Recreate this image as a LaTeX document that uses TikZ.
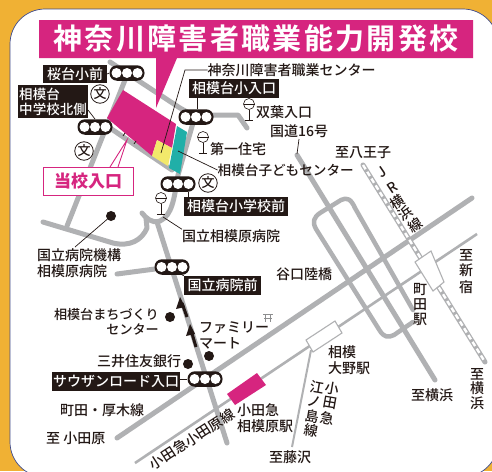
\documentclass[tikz,border=0pt]{standalone}
\usepackage{fontspec}
\setmainfont{Noto Sans CJK JP Medium}
\newfontfamily\titlefont[LetterSpace=8]{Noto Sans CJK JP Bold}
\definecolor{ink}{HTML}{231815}
\definecolor{roadc}{HTML}{B0B1B3}
\definecolor{mag}{HTML}{D6257F}
\definecolor{tealc}{HTML}{20AFA8}
\definecolor{yel}{HTML}{F2E96B}
\definecolor{oran}{HTML}{F0B134}
\definecolor{navy}{HTML}{3F4A8A}
\newcommand{\tlamp}[3]{%
  \node[lamp] (#1) at (#2,#3) {};
  \foreach \dx in {-10.5,0,10.5} \fill[white] (#2+\dx,#3) circle (5);
}
\newcommand{\bstop}[3]{%
  \node[busc] (#1) at (#2,#3) {};
  \draw[ink,line width=.6] (#2-5.5,#3)--(#2+5.5,#3) (#2,#3+5.5)--(#2,#3+16) (#2-4,#3+16)--(#2+4,#3+16);
}
\tikzset{
  road/.style={roadc,line width=5,line cap=round,line join=round},
  rail/.style={roadc,line width=2.6},
  lamp/.style={fill=ink,rounded corners=7.5,minimum width=35,minimum height=15.5,inner sep=0},
  busc/.style={circle,draw=ink,fill=white,line width=.6,minimum size=11,inner sep=0},
  lbl/.style={font=\fontsize{14}{16}\selectfont,text=ink,inner sep=0,anchor=west},
  blk/.style={fill=ink,text=white,font=\fontsize{14}{16}\selectfont,inner sep=0,align=left},
  ptr/.style={ink,line width=.7},
  dotm/.style={circle,fill=ink,inner sep=0,minimum size=10},
  bun/.style={circle,draw=ink,fill=white,line width=.8,minimum size=18.5,inner sep=0,font=\fontsize{13}{13}\selectfont,text=ink},
  stn/.style={fill=white,draw=roadc,line width=1.1},
  ch/.style={font=\fontsize{14}{14}\selectfont,text=ink,inner sep=0},
}
\begin{document}
\begin{tikzpicture}[x=1pt,y=-1pt]
\useasboundingbox (0,0) rectangle (492,471);
\clip (0,0) rectangle (492,471);
\fill[oran] (0,0) rectangle (492,471);
\draw[navy,fill=white,line width=.7,rounded corners=35] (10,9) rectangle (498,477);
% roads
\draw[road] (110,62)--(180,108)--(196,117);
\draw[road] (213,115)--(238,115)--(247,128);
\draw[road] (193,123)--(178,175) .. controls (174,200) and (172,215) .. (160,221) .. controls (152,224) and (146,218) .. (142,213);
\draw[road] (127,75)--(67,226);
\draw[road] (110,128)--(172,170);
\draw[road] (43,222)--(113,243) .. controls (130,247) and (142,240) .. (147,228)--(146,218);
\draw[road] (157,222)--(227,443);
\draw[road] (117,274)--(155,269);
\draw[road] (117,438)--(472,198);
\draw[road] (297,155)--(435,380);
\draw[road,line width=4.5] (413,310)--(355,208) .. controls (351,199) and (347,197) .. (341,200)--(320,213) .. controls (314,217) and (312,222) .. (316,229)--(380,331) .. controls (384,337) and (388,338) .. (394,335)--(413,322);
% rails
\draw[rail] (135,463)--(477,234);
\draw[rail,line width=2] (311,350)--(292,447);
\draw[roadc,line width=5,line cap=round] (363,165)--(485,362);
\draw[white,line width=2.4,dash pattern=on 5pt off 3pt] (363,165)--(485,362);
% stations
\fill[mag] (227,394)--(257,373)--(266,385)--(235,405)--cycle;
\draw[stn] (306,340)--(335,321)--(342,333)--(313,352)--cycle;
\draw[stn] (415,262)--(431,251)--(444,282)--(433,291)--cycle;
% site
\fill[mag] (123,90)--(176,124)--(172,148)--(157,140)--(152,156)--(107,118)--cycle;
\fill[yel] (157,140)--(172,148)--(168,166)--(152,156)--cycle;
\fill[tealc] (177,126)--(187,132)--(180,174)--(169,168)--cycle;
% banner
\fill[mag] (39,20)--(473,20)--(473,58)--(177,58)--(156,108)--(156,58)--(39,58)--cycle;
\node[text=white,inner sep=0] (title) at (256,38.5) {\titlefont\fontsize{29}{31}\selectfont 神奈川障害者職業能力開発校};
% leaders for the site
\draw[ptr] (123,136)--(125,133) (134,144)--(136,141);
\coordinate (cyel) at (161,153);
\coordinate (cteal) at (178,151);
% lamps
\tlamp{l1}{127}{73}
\tlamp{l2}{95}{127}
\tlamp{l3}{196}{117}
\tlamp{l4}{178}{184}
\tlamp{l5}{172}{267}
\tlamp{l6}{205}{379}
% black labels
\node[blk,minimum width=64,minimum height=18] (b1) at (75,74) {桜台小前};
\node[blk,minimum width=70,minimum height=33,font=\fontsize{13.5}{15}\selectfont] (b2) at (53,101.5) {相模台\\中学校北側};
\node[blk,minimum width=90,minimum height=19] (b3) at (234,88.5) {相模台小入口};
\node[blk,minimum width=104,minimum height=19] (b4) at (236,206.5) {相模台小学校前};
\node[blk,minimum width=77,minimum height=19] (b5) at (222.5,285.5) {国立病院前};
\node[blk,minimum width=128,minimum height=19] (b6) at (116,381.5) {サウザンロード入口};
\draw[ptr] (b1.east)--(l1.west);
\draw[ptr] (88,110)--(l2.north);
\draw[ptr] (b3.south -| 197,0)--(l3.north -| 197,0);
\draw[ptr] (b4.north -| 188,0)--(l4.south -| 188,0);
\draw[ptr] (177,272)--(b5.north west);
\draw[ptr] (b6.east |- l6)--(l6.west);
% entrance
\node[draw=mag,fill=white,line width=.9,minimum width=90,minimum height=28,inner sep=0,text=mag,font=\fontsize{17}{19}\selectfont\bfseries] (ent) at (88,181) {当校入口};
\coordinate (tipe) at (127,140);
\draw[mag,line width=.9] (110,167)--(tipe)--(118,167);
% schools
\node[bun] (s1) at (100,94) {文};
\node[bun] (s2) at (84,151) {文};
\node[bun] (s3) at (208,183) {文};
% bus stops
\bstop{bs1}{203}{137}
\bstop{bs2}{249}{104}
\bstop{bs3}{161}{198}
% text labels
\node[lbl] (t1) at (207.5,70) {神奈川障害者職業センター};
\draw[ptr] (t1.west)--(185,70)--(cyel);
\node[lbl] (t2) at (256,112) {双葉入口};
\node[lbl] (t3) at (270,131) {国道16号};
\coordinate (r16) at (297,154);
\draw[ptr] (299,139)--(r16);
\node[lbl] (t4) at (210,149) {第一住宅};
\node[lbl,font=\fontsize{13.6}{16}\selectfont] (t5) at (217.5,170) {相模台子どもセンター};
\draw[ptr] (cteal)--(t5.west);
\node[lbl] (t6) at (335,153) {至八王子};
\node[lbl] (t7) at (182,236) {国立相模原病院};
\draw[ptr] (163,217)--(t7.north west);
\node[lbl,align=left] (t8) at (37,263.5) {国立病院機構\\相模原病院};
\node[dotm] (d1) at (111,216) {};
\draw[ptr] (d1)--(75,247);
\node[lbl] (t9) at (276,274) {谷口陸橋};
\node[lbl,anchor=east,align=right,font=\fontsize{13.1}{15}\selectfont] (t10) at (159,321.5) {相模台まちづくり\\センター};
\node[dotm] (d2) at (170,317) {};
\node[lbl,align=left] (t11) at (199,335) {ファミリー\\マート};
\node[dotm] (d3) at (209,356) {};
\node[lbl] (t12) at (97,361) {三井住友銀行};
\node[dotm] (d4) at (188,364) {};
\node[lbl] (t13) at (60,410) {町田・厚木線};
\node[lbl] (t14) at (46,438) {至 小田原};
\node[lbl,anchor=center,rotate=33] (t15) at (192,439) {小田急小田原線};
\node[lbl,align=left] (t16) at (237,418) {小田急\\相模原駅};
\node[lbl,align=left] (t17) at (328,360) {相模\\大野駅};
\node[lbl] (t18) at (269,457) {至藤沢};
\node[lbl] (t19) at (411,395) {至横浜};
% vertical texts
\node[ch] (v1) at (466,255) {至};
\node[ch] (v2) at (466,270) {新};
\node[ch] (v3) at (466,287) {宿};
\node[ch] (m1) at (420,290) {町};
\node[ch] (m2) at (420,305) {田};
\node[ch] (m3) at (420,319) {駅};
\node[ch] (y1) at (477,374) {至};
\node[ch] (y2) at (477,388) {横};
\node[ch] (y3) at (477,403) {浜};
\node[ch,rotate=-10] (o1) at (332,389) {小};
\node[ch,rotate=-10] (o2) at (330,403) {田};
\node[ch,rotate=-10] (o3) at (327,418) {急};
\node[ch,rotate=-10] (e1) at (317,387) {江};
\node[ch,rotate=-10] (e2) at (314,402) {ノ};
\node[ch,rotate=-10] (e3) at (312,416) {島};
\node[ch,rotate=-10] (e4) at (311,430) {線};
\node[ch,rotate=34] (j1) at (382,172) {J};
\node[ch,rotate=34] (j2) at (392,188) {R};
\node[ch,rotate=34] (j3) at (397,202) {横};
\node[ch,rotate=34] (j4) at (405,213) {浜};
\node[ch,rotate=34] (j5) at (415,225) {線};
% arrows
\draw[ink,line width=3] (196,347)--(191,330);
\fill[ink] (190,324)--(195,334)--(186,336)--cycle;
\draw[ink,line width=3] (187,317)--(182,303);
\fill[ink] (180,297)--(185,307)--(176,309)--cycle;
% torii
\draw[roadc!80!black,line width=.6] (263,314)--(273,314) (264,318)--(272,318) (265.5,314)--(265.5,322) (270.5,314)--(270.5,322);
\end{tikzpicture}
\end{document}
